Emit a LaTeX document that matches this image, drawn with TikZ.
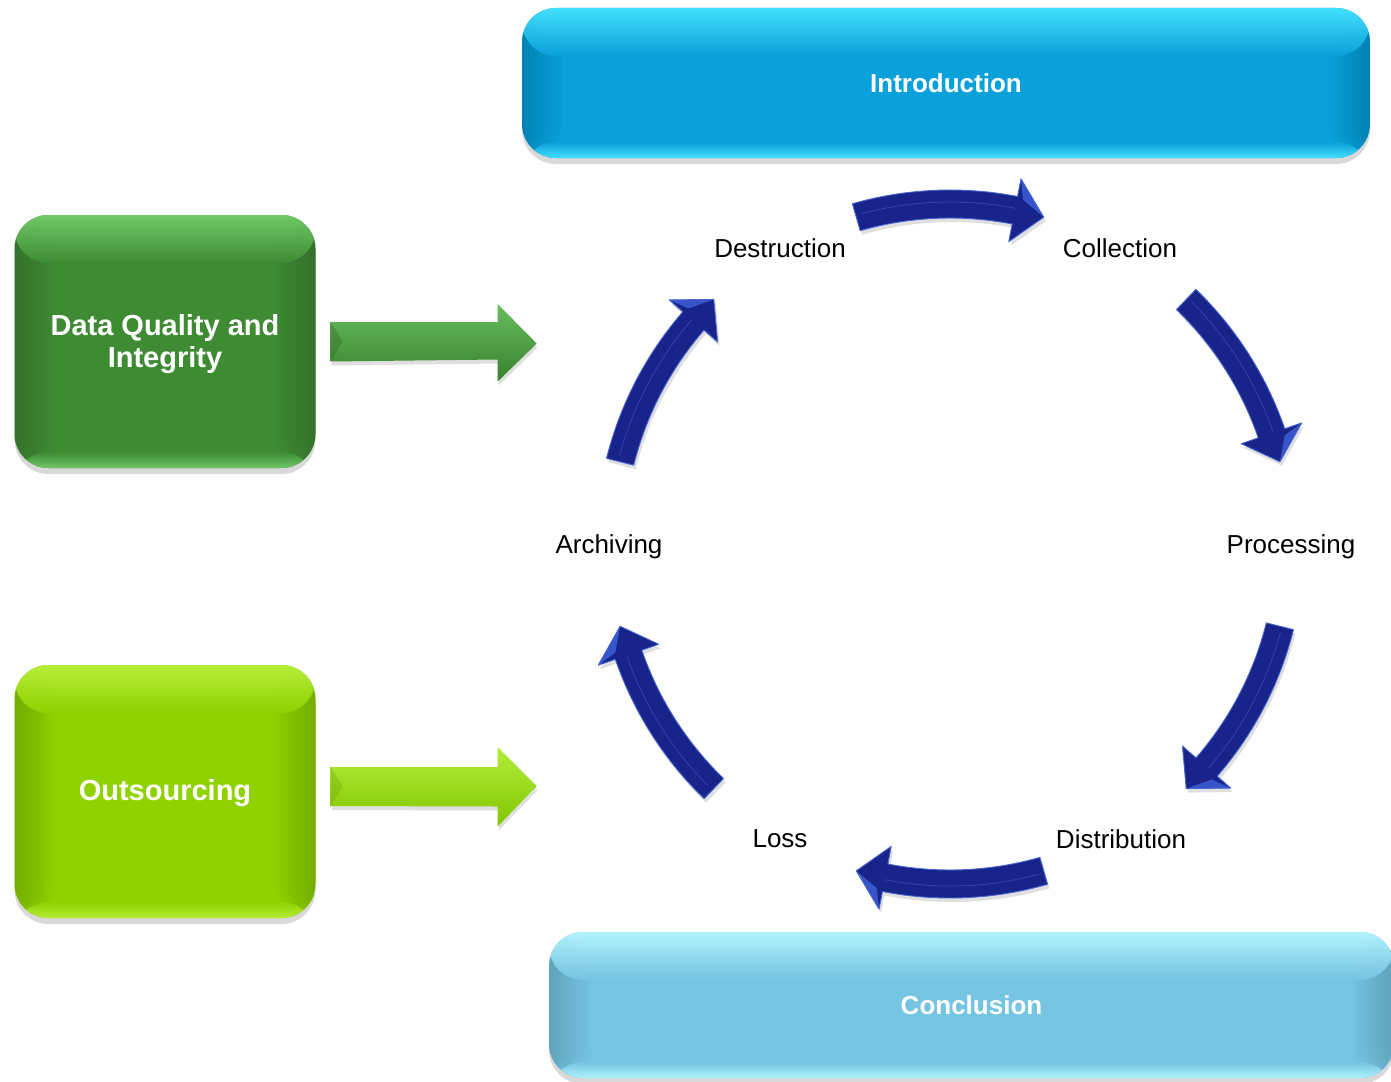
\documentclass[tikz,border=0pt]{standalone}
\usepackage{fontspec}
\setmainfont{Liberation Sans}
\usetikzlibrary{shadows,calc}
\definecolor{introbase}{RGB}{10,160,218}
\definecolor{introhi}{RGB}{70,228,255}
\definecolor{concbase}{RGB}{117,196,226}
\definecolor{conchi}{RGB}{180,245,255}
\definecolor{dqbase}{RGB}{62,139,52}
\definecolor{dqhi}{RGB}{115,205,105}
\definecolor{osbase}{RGB}{143,210,0}
\definecolor{oshi}{RGB}{185,240,60}
\definecolor{navy}{RGB}{24,36,138}
\definecolor{navyedge}{RGB}{70,100,210}
\definecolor{navyhi}{RGB}{55,85,200}
\definecolor{garrtop}{RGB}{105,190,95}
\definecolor{garrbot}{RGB}{55,128,45}
\definecolor{larrtop}{RGB}{180,238,60}
\definecolor{larrbot}{RGB}{128,198,0}
\newcommand{\cycarrow}[1]{%
  \pgfmathsetmacro\ta{#1+16}%
  \pgfmathsetmacro\hb{#1-11}%
  \pgfmathsetmacro\tp{#1-16}%
  \fill[navy, drop shadow={shadow xshift=2pt, shadow yshift=-4pt, opacity=0.25}]
    plot[domain=\ta:\hb, samples=24] ({354*cos(\x)},{-354*sin(\x)})
    -- ({372*cos(\hb)},{-372*sin(\hb)})
    -- ({340*cos(\tp)},{-340*sin(\tp)})
    -- ({308*cos(\hb)},{-308*sin(\hb)})
    -- plot[domain=\hb:\ta, samples=24] ({326*cos(\x)},{-326*sin(\x)})
    -- cycle;
  \fill[navyhi]
    ({372*cos(\hb)},{-372*sin(\hb)}) -- ({340*cos(\tp)},{-340*sin(\tp)})
    -- ({352*cos(\hb-1)},{-352*sin(\hb-1)}) -- cycle;
  \draw[navyedge, line width=0.8pt, opacity=0.5]
    plot[domain=\ta-1:\hb, samples=24] ({342*cos(\x)},{-342*sin(\x)});
  \draw[navyedge, line width=0.9pt, line join=round]
    plot[domain=\ta:\hb, samples=24] ({354*cos(\x)},{-354*sin(\x)})
    -- ({372*cos(\hb)},{-372*sin(\hb)})
    -- ({340*cos(\tp)},{-340*sin(\tp)})
    -- ({308*cos(\hb)},{-308*sin(\hb)})
    -- plot[domain=\hb:\ta, samples=24] ({326*cos(\x)},{-326*sin(\x)})
    -- cycle;
}
\begin{document}
\begin{tikzpicture}[x=1pt,y=-1pt,
  box/.style={rounded corners=34pt, inner sep=0pt, text=white, align=center,
    drop shadow={shadow xshift=0pt, shadow yshift=-6pt, opacity=0.3}},
  hilite/.style 2 args={path picture={
    \foreach \i in {1,...,10}{
      \fill[black, opacity=0.015]
        (path picture bounding box.north west) rectangle
        ([xshift=\i*4pt]path picture bounding box.south west);
      \fill[black, opacity=0.015]
        (path picture bounding box.north east) rectangle
        ([xshift=-\i*4pt]path picture bounding box.south east);
    }
    \shade[top color=#1, bottom color=#2, opacity=0.95]
      (path picture bounding box.north west) rectangle
      ([yshift=-48pt]path picture bounding box.north east);
    \shade[top color=#2, bottom color=#1, opacity=0.95]
      ([yshift=16pt]path picture bounding box.south west) rectangle
      (path picture bounding box.south east);
  }},
  lbl/.style={font=\fontsize{26}{31}\selectfont, text=black, inner sep=0pt},
  bigtxt/.style={font=\fontsize{26}{31}\selectfont\bfseries},
  greentxt/.style={font=\fontsize{29}{32}\selectfont\bfseries, text=white, align=center, inner sep=0pt}
]
\useasboundingbox (0,0) rectangle (1391,1081);

% top and bottom bars
\node[box, fill=introbase, hilite={introhi}{introbase}, bigtxt,
  minimum width=848pt, minimum height=150pt] (intro) at (946,83) {Introduction};
\node[box, fill=concbase, hilite={conchi}{concbase}, bigtxt,
  minimum width=845pt, minimum height=146pt] (conc) at (971.5,1005) {Conclusion};

% side boxes
\node[box, fill=dqbase, hilite={dqhi}{dqbase},
  minimum width=301pt, minimum height=253pt] (dq) at (165,341.5) {};
\node[greentxt] (dqtext) at (165,344.5) {Data Quality and\\Integrity};
\node[box, fill=osbase, hilite={oshi}{osbase},
  minimum width=301pt, minimum height=253pt] (os) at (165,791.5) {};
\node[greentxt] (ostext) at (165,793.5) {Outsourcing};

% green arrows
\coordinate (ga) at ([xshift=15pt]dq.east);
\coordinate (gb) at ([xshift=15pt]os.east);
\shade[top color=garrtop, bottom color=garrbot, drop shadow={shadow xshift=1pt, shadow yshift=-4pt, opacity=0.25}]
  ([yshift=19.5pt]ga) -- ++(167,0) -- ++(0,-18) -- ($(ga)+(206,2)$) -- ([xshift=167pt,yshift=-40pt]ga) -- ++(0,-22) -- ([yshift=-20pt]ga) -- cycle;
\fill[garrbot!80!black, opacity=0.35] ([yshift=19.5pt]ga) -- ([xshift=12pt,yshift=0pt]ga) -- ([yshift=-20pt]ga) -- cycle;
\shade[top color=larrtop, bottom color=larrbot, drop shadow={shadow xshift=1pt, shadow yshift=-4pt, opacity=0.25}]
  ([yshift=24.5pt]gb) -- ++(167,0) -- ++(0,-20) -- ($(gb)+(206,-5.5)$) -- ([xshift=167pt,yshift=-35pt]gb) -- ++(0,-20) -- ([yshift=-14.5pt]gb) -- cycle;
\fill[larrbot!80!black, opacity=0.3] ([yshift=24.5pt]gb) -- ([xshift=12pt,yshift=5pt]gb) -- ([yshift=-14.5pt]gb) -- cycle;

% cycle
\coordinate (cyc) at (950,544);
\node[lbl] (destr) at (780,248) {Destruction};
\node[lbl] (coll) at (1120,248) {Collection};
\node[lbl] (proc) at (1291,547) {Processing};
\node[lbl] (distr) at (1121,839) {Distribution};
\node[lbl] (loss) at (780,839) {Loss};
\node[lbl] (arch) at (609,547) {Archiving};

\begin{scope}[shift={(cyc)}]
  \cycarrow{90}
  \cycarrow{30}
  \cycarrow{-30}
  \cycarrow{-90}
  \cycarrow{-150}
  \cycarrow{150}
\end{scope}
\end{tikzpicture}
\end{document}
